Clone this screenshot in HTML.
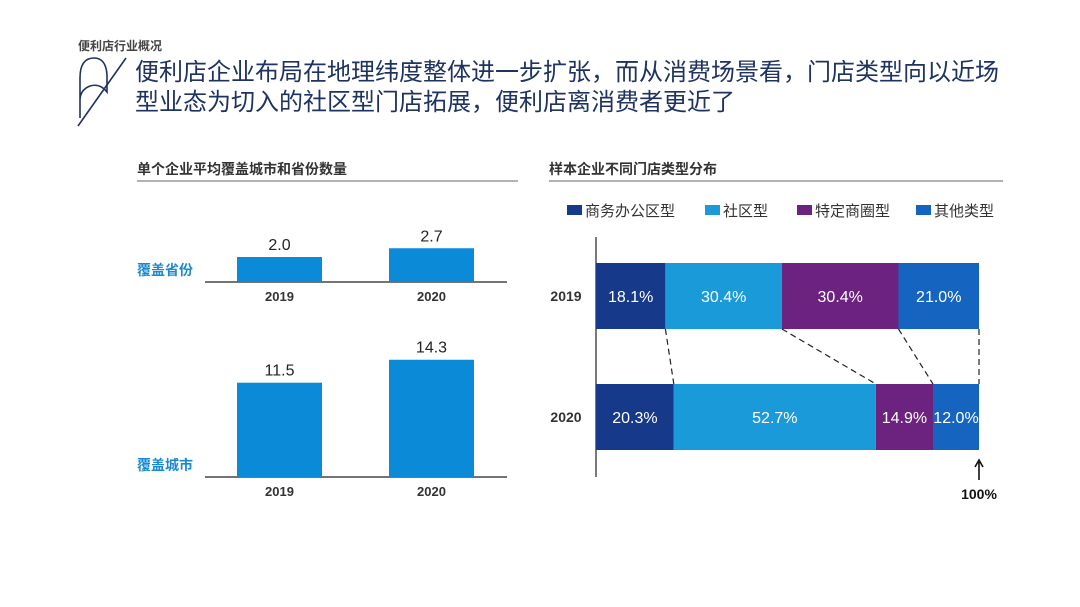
<!DOCTYPE html>
<html><head><meta charset="utf-8">
<style>
html,body{margin:0;padding:0;background:#fff;width:1080px;height:607px;overflow:hidden}
body{font-family:"Liberation Sans","Noto Sans CJK SC",sans-serif}
svg text{font-family:"Liberation Sans","Noto Sans CJK SC",sans-serif}
</style></head>
<body>
<svg id="chart" width="1080" height="607" viewBox="0 0 1080 607">
  <text x="78" y="50" font-size="12" font-weight="bold" fill="#444">便利店行业概况</text>
  <g fill="none" stroke="#1e3360" stroke-width="1.6">
    <path d="M80 118 L80 78 Q80 58 94 58 Q106 58 107 75 L107 92 Q100 83 90 86 Q80 90 80 100"/>
    <line x1="126" y1="58" x2="78" y2="126"/>
  </g>
  <text x="135" y="80" font-size="24" fill="#1e3360">便利店企业布局在地理纬度整体进一步扩张，而从消费场景看，门店类型向以近场</text>
  <text x="135" y="110" font-size="24" fill="#1e3360">型业态为切入的社区型门店拓展，便利店离消费者更近了</text>

  <text x="137" y="174" font-size="14" font-weight="bold" fill="#333">单个企业平均覆盖城市和省份数量</text>
  <line x1="137" y1="181" x2="518" y2="181" stroke="#666" stroke-width="1"/>
  <text x="549" y="174" font-size="14" font-weight="bold" fill="#333">样本企业不同门店类型分布</text>
  <line x1="549" y1="181" x2="1003" y2="181" stroke="#666" stroke-width="1"/>

  <g id="left"></g>
  <g id="right"></g>
</svg>
<script>
const years = ["2019","2020"];
const provinces = [2.0, 2.7];
const cities = [11.5, 14.3];
const segNames = ["商务办公区型","社区型","特定商圈型","其他类型"];
const share2019 = [18.1, 30.4, 30.4, 21.0];
const share2020 = [20.3, 52.7, 14.9, 12.0];

const NS = "http://www.w3.org/2000/svg";
function mk(tag, attrs, parent, txt){
  const e = document.createElementNS(NS, tag);
  for (const k in attrs) e.setAttribute(k, attrs[k]);
  if (txt !== undefined) e.textContent = txt;
  parent.appendChild(e);
  return e;
}
const left = document.getElementById('left');
const right = document.getElementById('right');

function columnChart(vals, baseY, pxPer, label, key){
  const xs = [237, 389], w = 85;
  const ax = mk('line',{x1:205,y1:baseY,x2:507,y2:baseY,stroke:'#222','stroke-width':1.2},left);
  
  
  const lb = mk('text',{x:137,y:baseY-7,'font-size':14,'font-weight':'bold',fill:'#1a8ad0'},left,label);
  
  
  vals.forEach((v,i)=>{
    const h = v*pxPer;
    const r = mk('rect',{x:xs[i],y:baseY-h,width:w,height:h,fill:'#0b8ad8'},left);
    
    
    const t = mk('text',{x:xs[i]+w/2,y:baseY-h-7,'font-size':16,fill:'#222','text-anchor':'middle'},left,v.toFixed(1));
    
    
    const y = mk('text',{x:xs[i]+w/2,y:baseY+19,'font-size':13,'font-weight':'bold',fill:'#333','text-anchor':'middle'},left,years[i]);
    
    
  });
}
columnChart(provinces, 282, 12.5, "覆盖省份", "province");
columnChart(cities, 477, 8.2, "覆盖城市", "city");

const colors = ['#17398a','#1a9ad8','#6b237f','#1565c0'];
const x0 = 596, x1 = 979;
const sx = v => x0 + (x1-x0)*v/100;
const legX = [567, 705, 797, 916];
segNames.forEach((n,i)=>{
  const r = mk('rect',{x:legX[i],y:205,width:15,height:10,fill:colors[i]},right);
  
  
  const t = mk('text',{x:legX[i]+18,y:216,'font-size':15,fill:'#333'},right,n);
  
  
});
const axis = mk('line',{x1:596,y1:237,x2:596,y2:477,stroke:'#222','stroke-width':1.2},right);



function stack(vals, y, h, yr){
  const total = vals.reduce((a,b)=>a+b,0);
  let acc = 0; const edges=[];
  vals.forEach((v,i)=>{
    const a = sx(acc/total*100), b = sx((acc+v)/total*100);
    edges.push(b);
    const r = mk('rect',{x:a,y:y,width:b-a,height:h,fill:colors[i]},right);
    
    
    const t = mk('text',{x:(a+b)/2,y:y+h/2+6,'font-size':16,fill:'#fff','text-anchor':'middle'},right,v.toFixed(1)+'%');
    
    
    acc += v;
  });
  const yl = mk('text',{x:566,y:y+h/2+5,'font-size':14,'font-weight':'bold',fill:'#333','text-anchor':'middle'},right,yr);
  
  
  return edges;
}
const e1 = stack(share2019, 263, 66, '2019');
const e2 = stack(share2020, 384, 66, '2020');
for (let i=0;i<4;i++){
  const l = mk('line',{x1:e1[i],y1:329,x2:e2[i],y2:384,stroke:'#222','stroke-width':1.2,'stroke-dasharray':'6,4'},right);
  
  
}
const arr = mk('path',{d:'M979 480 L979 462 M975 467 L979 460 L983 467',stroke:'#111','stroke-width':1.6,fill:'none'},right);


const tl = mk('text',{x:979,y:499,'font-size':14,'font-weight':'bold',fill:'#111','text-anchor':'middle'},right,'100%');


</script>
</body></html>
